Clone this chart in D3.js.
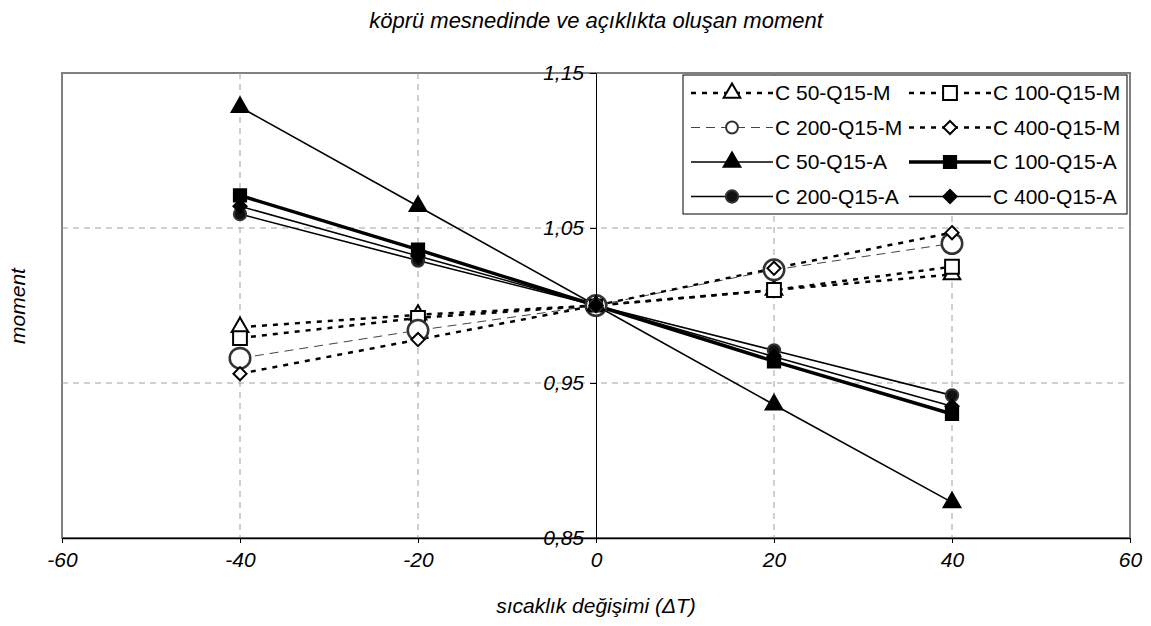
<!DOCTYPE html>
<html lang="tr">
<head>
  <meta charset="UTF-8">
  <title>köprü mesnedinde ve açıklıkta oluşan moment</title>
  <script src="https://d3js.org/d3.v7.min.js"></script>
</head>
<style>
  body { margin: 0; background: #fff; }
  text { font-family: "Liberation Sans", Arial, sans-serif; font-style: italic; }
  .grid { stroke: #a0a0a0; stroke-dasharray: 6,5; stroke-width: 1px; }
</style>
<body>
<svg id="chart" width="1151" height="626"></svg>
<script>
  // sıcaklık değişimi (ΔT)
  const temps = [-40, -20, 0, 20, 40];

  const c50M  = [0.986, 0.994, 1.0, 1.010, 1.020];
  const c100M = [0.979, 0.992, 1.0, 1.010, 1.025];
  const c200M = [0.966, 0.984, 1.0, 1.023, 1.040];
  const c400M = [0.956, 0.978, 1.0, 1.024, 1.047];
  const c50A  = [1.128, 1.064, 1.0, 0.936, 0.873];
  const c100A = [1.071, 1.036, 1.0, 0.964, 0.930];
  const c200A = [1.059, 1.029, 1.0, 0.971, 0.942];
  const c400A = [1.064, 1.032, 1.0, 0.967, 0.935];

  const xTicks = [-60, -40, -20, 0, 20, 40, 60];
  const yTicks = [0.85, 0.95, 1.05, 1.15];

  const series = [
    {name: "C 50-Q15-M",  values: c50M,  stroke: "#000", width: 2.5, dash: "5,6", marker: "triangle", fill: "#fff", msize: 120},
    {name: "C 100-Q15-M", values: c100M, stroke: "#000", width: 2.5, dash: "5,6", marker: "square",   fill: "#fff", msize: 190},
    {name: "C 200-Q15-M", values: c200M, stroke: "#444", width: 1,   dash: "9,6", marker: "circle",   fill: "#fff", msize: 330},
    {name: "C 400-Q15-M", values: c400M, stroke: "#000", width: 2.5, dash: "5,6", marker: "diamond",  fill: "#fff", msize: 110},
    {name: "C 50-Q15-A",  values: c50A,  stroke: "#000", width: 1.6, dash: null,  marker: "triangle", fill: "#000", msize: 120},
    {name: "C 100-Q15-A", values: c100A, stroke: "#000", width: 3.5, dash: null,  marker: "square",   fill: "#000", msize: 150},
    {name: "C 200-Q15-A", values: c200A, stroke: "#000", width: 1.6, dash: null,  marker: "circle",   fill: "#111", msize: 120},
    {name: "C 400-Q15-A", values: c400A, stroke: "#000", width: 1.6, dash: null,  marker: "diamond",  fill: "#000", msize: 110}
  ];

  const symbolTypes = {
    triangle: d3.symbolTriangle,
    square: d3.symbolSquare,
    circle: d3.symbolCircle,
    diamond: d3.symbolDiamond2
  };

  const svg = d3.select("#chart");
  const plotLeft = 62, plotRight = 1130, plotTop = 73, plotBottom = 538;

  const x = d3.scaleLinear().domain([-60, 60]).range([plotLeft, plotRight]);
  const y = d3.scaleLinear().domain([0.85, 1.15]).range([plotBottom, plotTop]);

  // title
  svg.append("text")
    .attr("x", 596).attr("y", 28)
    .attr("text-anchor", "middle")
    .style("font-size", "22px")
    .text("köprü mesnedinde ve açıklıkta oluşan moment");

  // plot frame
  svg.append("rect")
    .attr("x", plotLeft).attr("y", plotTop)
    .attr("width", plotRight - plotLeft).attr("height", plotBottom - plotTop)
    .attr("fill", "none").attr("stroke", "#808080").attr("stroke-width", 2);

  // grid lines
  svg.append("g").selectAll("line")
    .data(xTicks.filter(d => d != 0 && d != -60 && d != 60)).join("line")
    .attr("class", "grid")
    .attr("x1", d => x(d)).attr("x2", d => x(d))
    .attr("y1", plotTop).attr("y2", plotBottom);
  svg.append("g").selectAll("line")
    .data([0.95, 1.05]).join("line")
    .attr("class", "grid")
    .attr("x1", plotLeft).attr("x2", plotRight)
    .attr("y1", d => y(d)).attr("y2", d => y(d));

  // x axis at bottom (plain hyphen for negatives, like the original)
  const xAxis = svg.append("g")
    .attr("transform", `translate(0,${plotBottom})`)
    .call(d3.axisBottom(x).tickValues(xTicks).tickSize(5).tickSizeOuter(0).tickPadding(9)
      .tickFormat(d => String(d)));
  xAxis.select(".domain").attr("stroke", "#000").attr("stroke-width", 1.5);
  xAxis.selectAll("text").style("font-size", "21px").style("font-family", "Liberation Sans, Arial, sans-serif");

  // y axis crosses at x = 0
  const yAxis = svg.append("g")
    .attr("transform", `translate(${x(0)},0)`)
    .call(d3.axisLeft(y).tickValues(yTicks).tickSize(6).tickSizeOuter(0).tickPadding(6)
      .tickFormat(d => d3.format(".2f")(d).replace(".", ",")));
  yAxis.select(".domain").attr("stroke", "#000").attr("stroke-width", 1);
  yAxis.selectAll("text").style("font-size", "21px").style("font-family", "Liberation Sans, Arial, sans-serif");

  // axis titles
  svg.append("text")
    .attr("x", 596).attr("y", 613)
    .attr("text-anchor", "middle")
    .style("font-size", "21px")
    .text("sıcaklık değişimi (ΔT)");
  svg.append("text")
    .attr("transform", "translate(25,306) rotate(-90)")
    .attr("text-anchor", "middle")
    .style("font-size", "21px")
    .text("moment");

  // lines
  const line = d3.line().x((d, i) => x(temps[i])).y(d => y(d));
  const plot = svg.append("g");
  plot.selectAll("path.series")
    .data(series).join("path")
    .attr("class", "series")
    .attr("d", s => line(s.values))
    .attr("fill", "none")
    .attr("stroke", s => s.stroke)
    .attr("stroke-width", s => s.width)
    .attr("stroke-dasharray", s => s.dash);

  // markers
  series.forEach(s => {
    plot.append("g").selectAll("path")
      .data(s.values).join("path")
      .attr("d", d3.symbol().type(symbolTypes[s.marker]).size(s.msize))
      .attr("transform", (d, i) => `translate(${x(temps[i])},${y(d)})`)
      .attr("fill", s.fill)
      .attr("stroke", s.marker == "circle" ? "#333" : "#000")
      .attr("stroke-width", s.marker == "circle" && s.fill == "#fff" ? 2.5 : 2);
  });

  // legend
  const lg = svg.append("g").attr("transform", "translate(683,75)");
  lg.append("rect")
    .attr("width", 444).attr("height", 139)
    .attr("fill", "#fff").attr("stroke", "#000").attr("stroke-width", 1);
  series.forEach((s, i) => {
    const col = i % 2, row = Math.floor(i / 2);
    const gx = col == 0 ? 8 : 226, gy = 18 + row * 34.5;
    const item = lg.append("g").attr("transform", `translate(${gx},${gy})`);
    item.append("line")
      .attr("x1", 0).attr("x2", 82)
      .attr("stroke", s.stroke)
      .attr("stroke-width", s.width)
      .attr("stroke-dasharray", s.dash);
    const lsize = s.marker == "circle" && s.fill == "#fff" ? 110 : s.msize;
    item.append("path")
      .attr("d", d3.symbol().type(symbolTypes[s.marker]).size(lsize))
      .attr("transform", "translate(41,0)")
      .attr("fill", s.fill)
      .attr("stroke", s.marker == "circle" ? "#333" : "#000")
      .attr("stroke-width", 2);
    item.append("text")
      .attr("x", 84).attr("y", 7)
      .style("font-size", "21px").style("font-style", "normal")
      .text(s.name);
  });
</script>
</body>
</html>
